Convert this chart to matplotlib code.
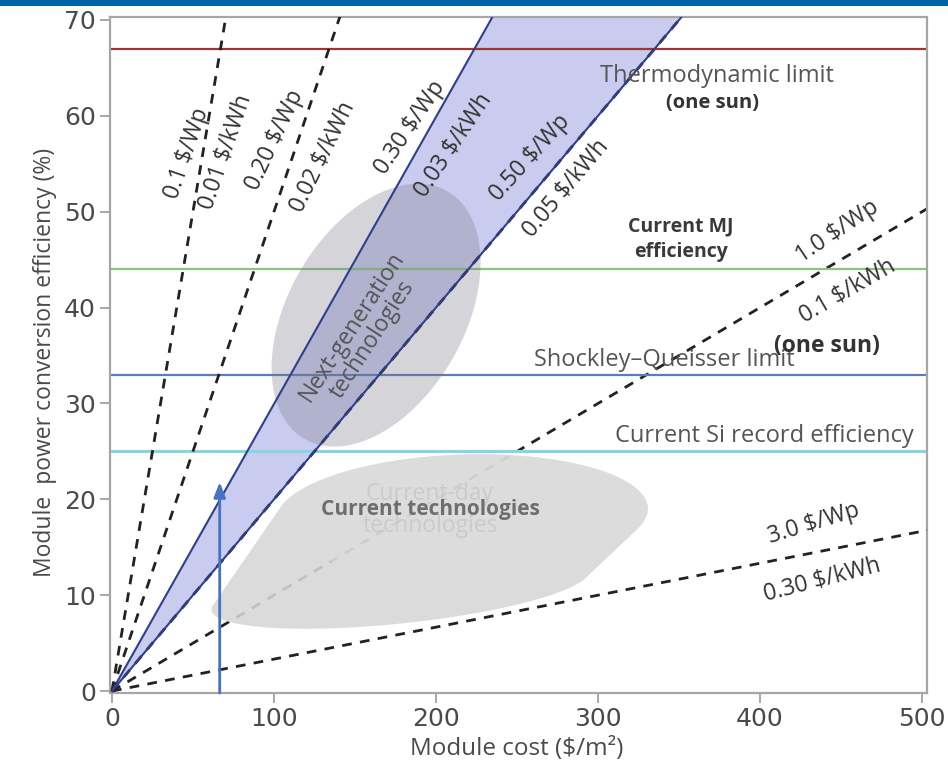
import numpy as np
import matplotlib
matplotlib.use("Agg")
import matplotlib.pyplot as plt
from matplotlib.patches import Rectangle, Polygon

# ---------------- data ----------------
# iso-cost lines: module cost ($/m2) needed per % of efficiency
line_price_wp = [r"0.1 \$/Wp", r"0.20 \$/Wp", r"0.30 \$/Wp", r"0.50 \$/Wp", r"1.0 \$/Wp", r"3.0 \$/Wp"]
line_price_kwh = [r"0.01 \$/kWh", r"0.02 \$/kWh", r"0.03 \$/kWh", r"0.05 \$/kWh", r"0.1 \$/kWh",
                  r"0.30 \$/kWh"]
cost_per_pct = [1.0, 2.0, 3.34, 5.0, 10.0, 30.0]
line_solid = [False, False, True, True, False, False]
line_dashed = [True, True, False, True, True, True]

# horizontal reference efficiencies (%)
ref_names = ["Thermodynamic limit", "Current MJ efficiency", "Shockley-Queisser limit",
             "Current Si record efficiency"]
ref_values = [67, 44, 33, 25]
ref_colors = ["#9e3434", "#8cc47e", "#5d7bb8", "#86d4e4"]

# technology regions (cost $/m2, efficiency %)
nextgen_center = (163, 39.2)
current_centers = [(216, 18.4), (178, 10.5), (240, 14.5)]
arrow_cost = 66.5
arrow_eff = 21.8

x_ticks = [0, 100, 200, 300, 400, 500]
y_ticks = [0, 10, 20, 30, 40, 50, 60, 70]

# ---------------- figure ----------------
W, H, DPI = 948, 769, 100
fig = plt.figure(figsize=(W / DPI, H / DPI), dpi=DPI)
fig.patch.set_facecolor("white")
ax_l, ax_r, ax_t, ax_b = 110, 927, 17, 693
ax = fig.add_axes([ax_l / W, 1 - ax_b / H, (ax_r - ax_l) / W, (ax_b - ax_t) / H])
xmin, xmax, ymin, ymax = -1.2, 503.0, -0.2, 70.3
ax.set_xlim(xmin, xmax)
ax.set_ylim(ymin, ymax)
sx = (ax_r - ax_l) / (xmax - xmin)   # px per cost unit
sy = (ax_b - ax_t) / (ymax - ymin)   # px per % unit

# top blue bar
fig.patches.append(Rectangle((0, 1 - 6 / H), 1, 6 / H, transform=fig.transFigure,
                             facecolor="#0062a8", edgecolor="none", zorder=10))

FONT = "Open Sans"
grey_txt = "#555555"

# band between 0.30 and 0.50 $/Wp
xs = np.linspace(0, 510, 300)
ax.fill_between(xs, xs / cost_per_pct[2], xs / cost_per_pct[3], color="#c9ccef",
                lw=0, zorder=1)

# horizontal lines
for v, c in zip(ref_values, ref_colors):
    ax.axhline(v, color=c, lw=2.2 if v == 25 else 1.6, zorder=1.5)

# iso-cost lines
for i, cpp in enumerate(cost_per_pct):
    ys = xs / cpp
    z = 1.2 if i == 4 else 4
    if line_solid[i]:
        ax.plot(xs, ys, color="#2f3f8f", lw=1.5, zorder=4.2)
    if line_dashed[i]:
        ax.plot(xs, ys, color="#222222", lw=2.0, dashes=(3.5, 3.0), zorder=z)


def ellipse_px(center, a, b, ang, n=200):
    t = np.linspace(0, 2 * np.pi, n)
    th = np.deg2rad(ang)
    dx = a * np.cos(t) * np.cos(th) - b * np.sin(t) * np.sin(th)
    dy = a * np.cos(t) * np.sin(th) + b * np.sin(t) * np.cos(th)
    return np.column_stack([center[0] * sx + dx, center[1] * sy + dy])


def hull(pts):
    pts = sorted(map(tuple, pts))
    def cross(o, a, b):
        return (a[0] - o[0]) * (b[1] - o[1]) - (a[1] - o[1]) * (b[0] - o[0])
    lower, upper = [], []
    for p in pts:
        while len(lower) >= 2 and cross(lower[-2], lower[-1], p) <= 0:
            lower.pop()
        lower.append(p)
    for p in reversed(pts):
        while len(upper) >= 2 and cross(upper[-2], upper[-1], p) <= 0:
            upper.pop()
        upper.append(p)
    return np.array(lower[:-1] + upper[:-1])


def to_data(p):
    return np.column_stack([p[:, 0] / sx, p[:, 1] / sy])


# current-day technologies blob
e1 = ellipse_px(current_centers[0], 186, 60, 2)
e2 = ellipse_px(current_centers[1], 190, 33, 6)
e3 = ellipse_px(current_centers[2], 125, 40, 12)
blob = to_data(hull(np.vstack([e1, e2, e3])))
ax.add_patch(Polygon(blob, closed=True, facecolor="#d7d7d7", edgecolor="none",
                     alpha=0.88, zorder=2))
ax.add_patch(Polygon(to_data(e1), closed=True, facecolor="#dddddd", edgecolor="none",
                     alpha=0.5, zorder=2.1))

# next-generation ellipse
ng = ellipse_px(nextgen_center, 143, 88, 60)
ax.add_patch(Polygon(to_data(ng), closed=True, facecolor="#7a7a86", edgecolor="none",
                     alpha=0.31, zorder=3))

# blue arrow
ax.annotate("", xy=(arrow_cost, arrow_eff), xytext=(arrow_cost, ymin),
            arrowprops=dict(arrowstyle="-|>,head_width=0.35,head_length=0.9",
                            color="#4472c4", lw=2.0, shrinkA=0, shrinkB=0), zorder=6)


def px_text(x, y, s, **kw):
    xd = xmin + (x - ax_l) / sx
    yd = ymax - (y - ax_t) / sy
    kw.setdefault("family", FONT)
    kw.setdefault("color", grey_txt)
    kw.setdefault("fontsize", 17)
    ax.text(xd, yd, s, ha="center", va="center", rotation_mode="anchor", zorder=7, **kw)


# line labels (pixel position, rotation)
lbl_pos_wp = [(187, 153, 71), (275, 140, 65), (410, 128, 56), (530, 158, 48),
              (837, 232, 34), (814, 524, 17)]
lbl_pos_kwh = [(225, 152, 71), (323, 157, 64), (453, 145, 56), (566, 188, 50),
               (847, 291, 30), (822, 580, 14.5)]
for s, (x, y, r) in zip(line_price_wp, lbl_pos_wp):
    px_text(x, y, s, rotation=r, color="#333333", fontsize=16.5)
for s, (x, y, r) in zip(line_price_kwh, lbl_pos_kwh):
    px_text(x, y, s, rotation=r, color="#333333", fontsize=16.5)

# reference labels
px_text(717, 76, "Thermodynamic limit")
px_text(712, 103, "(one sun)", fontsize=14.5, fontweight="bold", color="#333333")
px_text(681, 226, "Current MJ", fontsize=14, fontweight="bold", color="#3a3a3a")
px_text(681, 252, "efficiency", fontsize=14, fontweight="bold", color="#3a3a3a")
px_text(664, 360, "Shockley\u2013Queisser limit")
px_text(827, 346, "(one sun)", fontsize=16.5, fontweight="bold", color="#333333")
px_text(764, 436, "Current Si record efficiency")

# region labels
px_text(362, 333, "Next-generation\ntechnologies", rotation=57, linespacing=1.0,
        color="#555555", fontsize=16.5)
px_text(430, 494, "Current-day", color="#cbcbcb", fontsize=16.5)
px_text(430, 526, "technologies", color="#cbcbcb", fontsize=16.5)
px_text(430, 510, "Current technologies", fontsize=15, fontweight="bold",
        color="#6e6e6e")

# axes styling
for sp in ax.spines.values():
    sp.set_color("#a6a6a6")
    sp.set_linewidth(1.6)
ax.set_xticks(x_ticks)
ax.set_yticks(y_ticks)
ax.tick_params(direction="out", length=7, width=1.2, color="#999999",
               labelsize=18, labelcolor="#4a4a4a", pad=3)
ax.set_xlabel("Module cost ($/m²)", fontsize=17.5, color="#4a4a4a", family=FONT)
ax.set_ylabel("Module  power conversion efficiency (%)", fontsize=16.5, color="#4a4a4a",
              family=FONT)
ax.xaxis.set_label_coords((517 - ax_l) / (ax_r - ax_l), -(737 - ax_b) / (ax_b - ax_t))
ax.yaxis.set_label_coords(-(ax_l - 57) / (ax_r - ax_l), (ax_b - 362) / (ax_b - ax_t))

fig.savefig("out.png", dpi=DPI)
